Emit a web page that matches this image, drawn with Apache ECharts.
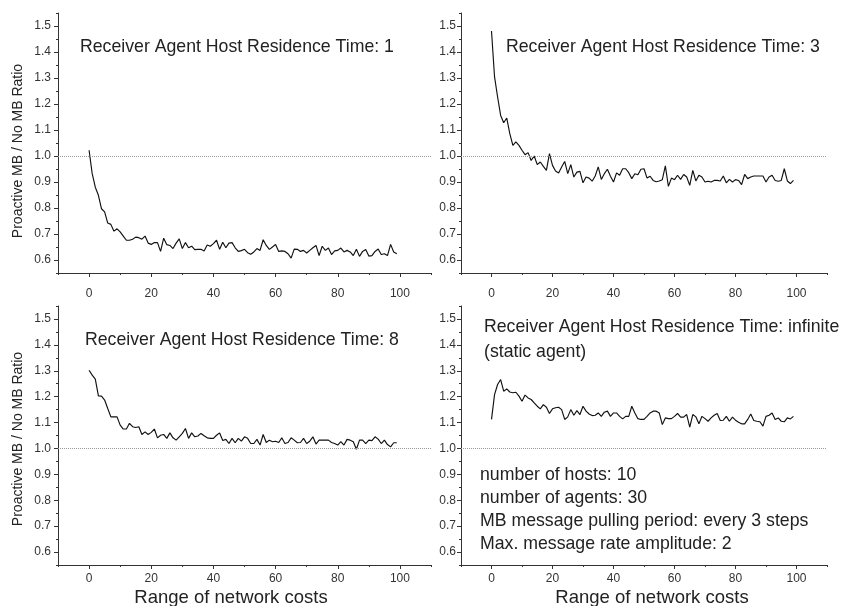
<!DOCTYPE html>
<html>
<head>
<meta charset="utf-8">
<script src="https://cdn.jsdelivr.net/npm/echarts@6/dist/echarts.min.js"></script>
<style>
  html, body { margin: 0; padding: 0; background: #fff; }
  #chart { width: 842px; height: 606px; }
</style>
</head>
<body>
<div id="chart"></div>
<script>
// x = network cost steps 0..99
const networkCosts = Array.from({ length: 100 }, (_, i) => i);

const residence1 = [
  1.022, 0.932, 0.880, 0.849, 0.797, 0.785, 0.742, 0.737, 0.711, 0.720,
  0.708, 0.692, 0.676, 0.676, 0.680, 0.688, 0.686, 0.680, 0.692, 0.665,
  0.660, 0.667, 0.667, 0.633, 0.684, 0.659, 0.656, 0.644, 0.665, 0.681,
  0.644, 0.667, 0.647, 0.653, 0.640, 0.641, 0.641, 0.635, 0.658, 0.653,
  0.663, 0.676, 0.641, 0.668, 0.647, 0.665, 0.667, 0.647, 0.633, 0.636,
  0.641, 0.628, 0.622, 0.631, 0.644, 0.637, 0.678, 0.656, 0.641, 0.650,
  0.660, 0.633, 0.635, 0.633, 0.624, 0.607, 0.642, 0.641, 0.633, 0.637,
  0.627, 0.637, 0.647, 0.656, 0.617, 0.653, 0.637, 0.646, 0.621, 0.635,
  0.637, 0.646, 0.631, 0.637, 0.631, 0.617, 0.641, 0.614, 0.633, 0.640,
  0.615, 0.617, 0.633, 0.642, 0.621, 0.624, 0.617, 0.660, 0.631, 0.624
];

const residence3 = [
  1.481, 1.304, 1.227, 1.156, 1.128, 1.146, 1.086, 1.041, 1.054, 1.041,
  1.022, 1.005, 1.013, 0.983, 1.000, 0.967, 0.977, 0.960, 0.945, 1.009,
  0.964, 0.942, 0.935, 0.958, 0.979, 0.932, 0.967, 0.919, 0.938, 0.941,
  0.897, 0.919, 0.915, 0.903, 0.923, 0.958, 0.910, 0.932, 0.949, 0.922,
  0.900, 0.935, 0.926, 0.951, 0.951, 0.936, 0.913, 0.932, 0.928, 0.949,
  0.951, 0.915, 0.922, 0.906, 0.901, 0.904, 0.909, 0.962, 0.883, 0.915,
  0.909, 0.926, 0.910, 0.929, 0.919, 0.887, 0.945, 0.904, 0.926, 0.919,
  0.900, 0.903, 0.900, 0.906, 0.906, 0.904, 0.923, 0.897, 0.910, 0.900,
  0.909, 0.906, 0.890, 0.929, 0.913, 0.919, 0.923, 0.923, 0.923, 0.923,
  0.900, 0.919, 0.926, 0.906, 0.903, 0.906, 0.951, 0.904, 0.894, 0.906
];

const residence8 = [
  1.302, 1.283, 1.268, 1.203, 1.202, 1.187, 1.154, 1.122, 1.122, 1.122,
  1.090, 1.075, 1.075, 1.097, 1.084, 1.081, 1.084, 1.054, 1.064, 1.054,
  1.062, 1.075, 1.041, 1.051, 1.054, 1.039, 1.060, 1.041, 1.032, 1.045,
  1.058, 1.077, 1.039, 1.060, 1.045, 1.048, 1.058, 1.049, 1.041, 1.039,
  1.039, 1.051, 1.060, 1.031, 1.035, 1.019, 1.039, 1.022, 1.039, 1.028,
  1.045, 1.039, 1.019, 1.019, 1.035, 1.013, 1.054, 1.023, 1.032, 1.026,
  1.028, 1.023, 1.041, 1.019, 1.023, 1.041, 1.032, 1.022, 1.023, 1.039,
  1.019, 1.028, 1.045, 1.017, 1.032, 1.032, 1.032, 1.032, 1.023, 1.019,
  1.013, 1.026, 1.013, 1.035, 1.032, 1.026, 0.997, 1.032, 1.032, 1.019,
  1.032, 1.030, 1.045, 1.036, 1.019, 1.032, 1.015, 1.006, 1.022, 1.022
];

const residenceInfinite = [
  1.112, 1.208, 1.247, 1.266, 1.221, 1.230, 1.218, 1.215, 1.217, 1.202,
  1.182, 1.206, 1.195, 1.189, 1.176, 1.163, 1.153, 1.169, 1.159, 1.135,
  1.153, 1.157, 1.159, 1.150, 1.112, 1.122, 1.150, 1.128, 1.146, 1.131,
  1.163, 1.144, 1.133, 1.127, 1.128, 1.137, 1.124, 1.140, 1.144, 1.124,
  1.137, 1.137, 1.124, 1.114, 1.124, 1.124, 1.163, 1.137, 1.115, 1.112,
  1.112, 1.124, 1.137, 1.144, 1.144, 1.137, 1.092, 1.118, 1.115, 1.115,
  1.124, 1.135, 1.121, 1.121, 1.131, 1.082, 1.131, 1.122, 1.095, 1.124,
  1.115, 1.105, 1.118, 1.128, 1.135, 1.108, 1.109, 1.124, 1.105, 1.121,
  1.109, 1.101, 1.095, 1.095, 1.112, 1.133, 1.108, 1.105, 1.103, 1.086,
  1.124, 1.128, 1.137, 1.112, 1.118, 1.105, 1.103, 1.118, 1.114, 1.124
];

const xTickLabels = [0, 20, 40, 60, 80, 100];
const yTickLabels = [0.6, 0.7, 0.8, 0.9, 1.0, 1.1, 1.2, 1.3, 1.4, 1.5];
const referenceLevel = 1.0;

const panelTitles = [
  ['Receiver Agent Host Residence Time: 1'],
  ['Receiver Agent Host Residence Time: 3'],
  ['Receiver Agent Host Residence Time: 8'],
  ['Receiver Agent Host Residence Time: infinite', '(static agent)']
];
const settingsNotes = [
  'number of hosts: 10',
  'number of agents: 30',
  'MB message pulling period: every 3 steps',
  'Max. message rate amplitude: 2'
];
const yName = 'Proactive MB / No MB Ratio';
const xName = 'Range of network costs';

const FONT = '"Liberation Sans", Arial, sans-serif';
const INK = '#222';

const panels = [
  { values: residence1, grid: { left: 58, top: 13, width: 373, height: 260 }, yMargin: 7, xMargin: 15,
    title: { x: 80, y: 47 } },
  { values: residence3, grid: { left: 461, top: 13, width: 366, height: 260 }, yMargin: 5, xMargin: 15,
    title: { x: 506, y: 47 } },
  { values: residence8, grid: { left: 58, top: 306, width: 373, height: 259 }, yMargin: 7, xMargin: 8,
    title: { x: 85, y: 340 } },
  { values: residenceInfinite, grid: { left: 461, top: 306, width: 366, height: 259 }, yMargin: 5, xMargin: 8,
    title: { x: 484, y: 327 } }
];

const grids = [], xAxes = [], yAxes = [], series = [], graphics = [];

panels.forEach(function (p, i) {
  grids.push(Object.assign({ containLabel: false, outerBoundsMode: 'none' }, p.grid));

  // main axes: line, major ticks, labels
  xAxes.push({
    type: 'value', gridIndex: i, position: 'bottom', min: -10, max: 110,
    axisLine: { onZero: false, lineStyle: { color: '#333', width: 1 } },
    axisTick: { show: true, length: 4, inside: false, customValues: xTickLabels, lineStyle: { color: '#333' } },
    axisLabel: { customValues: xTickLabels, margin: p.xMargin, fontSize: 12, fontFamily: FONT, color: '#333' },
    splitLine: { show: false }
  });
  yAxes.push({
    type: 'value', gridIndex: i, position: 'left', min: 0.55, max: 1.55,
    axisLine: { show: true, onZero: false, lineStyle: { color: '#333', width: 1 } },
    axisTick: { show: true, length: 4, inside: false, customValues: yTickLabels, lineStyle: { color: '#333' } },
    axisLabel: { customValues: yTickLabels, margin: p.yMargin, fontSize: 12, fontFamily: FONT, color: '#333',
      formatter: function (v) { return v.toFixed(1); } },
    splitLine: { show: false }
  });
  // overlay axes on the same sides: minor ticks only
  xAxes.push({
    type: 'value', gridIndex: i, position: 'bottom', offset: 0, min: -10, max: 110, interval: 10,
    axisLine: { show: false, onZero: false },
    axisTick: { show: true, length: 2, lineStyle: { color: '#333' } },
    axisLabel: { show: false }, splitLine: { show: false }
  });
  yAxes.push({
    type: 'value', gridIndex: i, position: 'left', offset: 0, min: 0.55, max: 1.55, interval: 0.05,
    axisLine: { show: false, onZero: false },
    axisTick: { show: true, length: 2, lineStyle: { color: '#333' } },
    axisLabel: { show: false }, splitLine: { show: false }
  });

  series.push({
    type: 'line',
    xAxisIndex: i * 2, yAxisIndex: i * 2,
    data: networkCosts.map(function (x, k) { return [x, p.values[k]]; }),
    symbol: 'none', animation: false,
    lineStyle: { color: '#111', width: 1.15 },
    markLine: {
      silent: true, symbol: 'none', animation: false,
      label: { show: false },
      lineStyle: { type: 'dotted', color: '#9a9a9a', width: 1 },
      data: [{ yAxis: referenceLevel }]
    }
  });

  panelTitles[i].forEach(function (line, j) {
    graphics.push({
      type: 'text',
      style: { text: line, x: p.title.x, y: p.title.y + j * 25, font: '17.7px ' + FONT,
        fill: INK, align: 'left', verticalAlign: 'middle' }
    });
  });
});

settingsNotes.forEach(function (line, j) {
  graphics.push({
    type: 'text',
    style: { text: line, x: 480, y: 475 + j * 23, font: '17.7px ' + FONT,
      fill: INK, align: 'left', verticalAlign: 'middle' }
  });
});

[[18, 151], [18, 439]].forEach(function (pos) {
  graphics.push({
    type: 'text', x: pos[0], y: pos[1], rotation: Math.PI / 2,
    style: { text: yName, x: 0, y: 0, font: '14px ' + FONT, fill: INK, align: 'center', verticalAlign: 'middle' }
  });
});
[[231, 598], [652, 598]].forEach(function (pos) {
  graphics.push({
    type: 'text',
    style: { text: xName, x: pos[0], y: pos[1], font: '18.5px ' + FONT, fill: INK, align: 'center', verticalAlign: 'middle' }
  });
});

const option = {
  backgroundColor: '#fff',
  animation: false,
  grid: grids,
  xAxis: xAxes,
  yAxis: yAxes,
  series: series,
  graphic: graphics
};

const chart = echarts.init(document.getElementById('chart'), null, { renderer: 'canvas' });
chart.setOption(option);
</script>
</body>
</html>
